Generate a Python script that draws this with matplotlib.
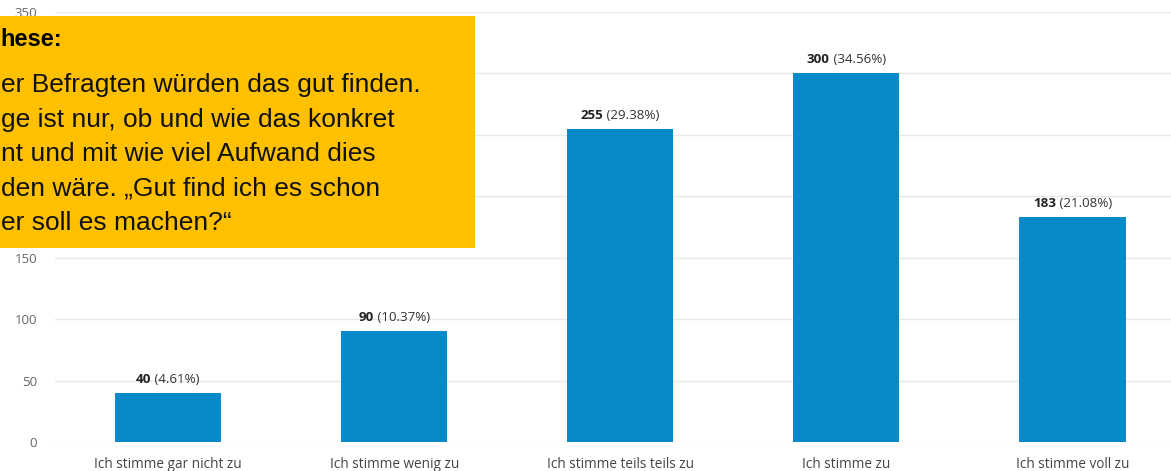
import matplotlib.pyplot as plt
from matplotlib.patches import Rectangle

# data
kategorien = ['Ich stimme gar nicht zu', 'Ich stimme wenig zu', 'Ich stimme teils teils zu',
              'Ich stimme zu', 'Ich stimme voll zu']
anzahl = [40, 90, 255, 300, 183]
prozent = [4.61, 10.37, 29.38, 34.56, 21.08]
y_ticks = [0, 50, 100, 150, 200, 250, 300, 350]
# labels 200-300 sit under the yellow box in the original
y_labels = ['0', '50', '100', '150', '', '', '', '350']

box_titel = 'hese:'
box_zeilen = ['er Befragten würden das gut finden.',
              'ge ist nur, ob und wie das konkret',
              'nt und mit wie viel Aufwand dies',
              'den wäre. „Gut find ich es schon',
              'er soll es machen?“']

W, H = 1171, 471
fig = plt.figure(figsize=(W / 100, H / 100), dpi=100)
ax = fig.add_axes([55 / W, 29 / H, (W - 55) / W, 430 / H])

x = range(len(kategorien))
ax.bar(x, anzahl, width=0.47, color='#078BC8', zorder=2)
ax.set_ylim(0, 350)
ax.set_xlim(-0.5, 4.436)
ax.set_yticks(y_ticks)
ax.set_yticklabels(y_labels)
ax.set_xticks(list(x))
ax.set_xticklabels(kategorien)
ax.grid(axis='y', color='#e8e8e8', lw=1, zorder=0)
for s in ax.spines.values():
    s.set_visible(False)
ax.tick_params(length=0)
ax.tick_params(axis='y', pad=13, labelsize=9.5, labelcolor='#666666')
ax.tick_params(axis='x', pad=11, labelsize=9.8, labelcolor='#444444')
for lab in ax.get_xticklabels() + ax.get_yticklabels():
    lab.set_family('Open Sans')

# value labels: bold count + normal percent
paare = []
for i, (v, p) in enumerate(zip(anzahl, prozent)):
    t1 = ax.annotate(str(v), (i, v), xytext=(0, 7), textcoords='offset pixels',
                     ha='right', va='bottom', fontsize=9.6, fontweight='bold',
                     family='Open Sans', color='#222222')
    t2 = ax.annotate(f' ({p:.2f}%)', (i, v), xytext=(0, 7), textcoords='offset pixels',
                     ha='left', va='bottom', fontsize=9.6, family='Open Sans', color='#333333')
    paare.append((t1, t2))

fig.canvas.draw()
r = fig.canvas.get_renderer()
for t1, t2 in paare:
    w1 = t1.get_window_extent(r).width
    w2 = t2.get_window_extent(r).width
    dx = (w1 - w2) / 2
    t1.xyann = (dx, 7)
    t2.xyann = (dx, 7)

# yellow note box
fig.add_artist(Rectangle((0, 1 - 248 / H), 475 / W, 232 / H, transform=fig.transFigure,
                         facecolor='#FFC000', edgecolor='none', zorder=5))
fig.text(0, 1 - 40 / H, box_titel, fontsize=17, fontweight='bold', family='Liberation Sans',
         va='center', ha='left', zorder=6)
for k, zeile in enumerate(box_zeilen):
    fig.text(1 / W, 1 - (85 + k * 34.5) / H, zeile, fontsize=19, family='Liberation Sans',
             va='center', ha='left', zorder=6, color='#111111')

fig.savefig('out.png', dpi=100)
